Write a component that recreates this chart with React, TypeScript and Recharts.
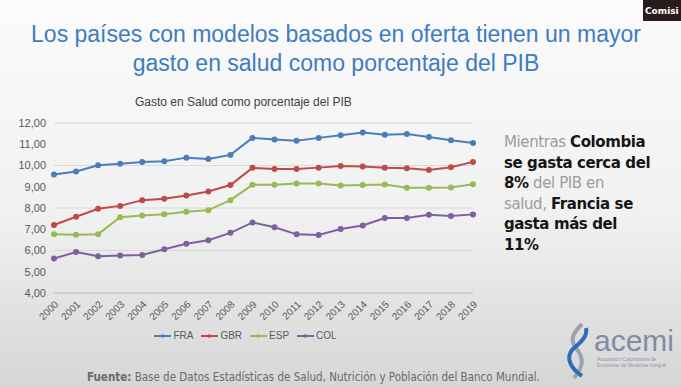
import React from "react"
import { LineChart, Line, XAxis, YAxis, CartesianGrid, Legend } from "recharts"

// Años y valores (% del PIB)
const YEARS = [
  "2000", "2001", "2002", "2003", "2004", "2005", "2006", "2007", "2008", "2009",
  "2010", "2011", "2012", "2013", "2014", "2015", "2016", "2017", "2018", "2019",
]
const FRA = [9.58, 9.72, 10.01, 10.08, 10.16, 10.2, 10.37, 10.31, 10.5, 11.3, 11.22, 11.17, 11.3, 11.42, 11.55, 11.45, 11.48, 11.34, 11.19, 11.06]
const GBR = [7.2, 7.59, 7.96, 8.1, 8.37, 8.43, 8.59, 8.78, 9.08, 9.89, 9.83, 9.84, 9.9, 9.98, 9.95, 9.89, 9.87, 9.79, 9.92, 10.17]
const ESP = [6.77, 6.74, 6.77, 7.57, 7.65, 7.71, 7.82, 7.9, 8.37, 9.09, 9.09, 9.15, 9.15, 9.06, 9.08, 9.11, 8.95, 8.95, 8.97, 9.12]
const COL = [5.62, 5.93, 5.73, 5.77, 5.79, 6.06, 6.32, 6.48, 6.83, 7.32, 7.09, 6.76, 6.73, 7.01, 7.18, 7.53, 7.53, 7.68, 7.62, 7.7]
const Y_TICKS = [4, 5, 6, 7, 8, 9, 10, 11, 12]

const SERIES = [
  { key: "FRA", color: "#4a7ebb" },
  { key: "GBR", color: "#be4b48" },
  { key: "ESP", color: "#98b954" },
  { key: "COL", color: "#7d60a0" },
]

const data = YEARS.map((year, i) => ({
  year,
  FRA: FRA[i],
  GBR: GBR[i],
  ESP: ESP[i],
  COL: COL[i],
}))

const fmt = (v: number) => v.toFixed(2).replace(".", ",")

// etiquetas del eje X giradas
const XTick = ({ x, y, payload }: any) => (
  <text
    x={x + 5}
    y={y + 4}
    textAnchor="end"
    transform={`rotate(-45 ${x + 5} ${y + 4})`}
    fontSize={10}
    fill="#595959"
    fontFamily="Liberation Sans, Arial, sans-serif"
  >
    {payload.value}
  </text>
)

// leyenda en el orden de las series, con línea y marcador
const LegendContent = () => (
  <div style={{ display: "flex", justifyContent: "center", gap: 8, fontSize: 10, color: "#595959", paddingLeft: 8 }}>
    {SERIES.map((s) => (
      <span key={s.key} style={{ display: "flex", alignItems: "center", gap: 2 }}>
        <svg width={17} height={8}>
          <line x1={0} y1={4} x2={17} y2={4} stroke={s.color} strokeWidth={2} />
          <circle cx={8.5} cy={4} r={1.8} fill={s.color} />
        </svg>
        {s.key}
      </span>
    ))}
  </div>
)

const dark = { fontWeight: 700, color: "#151515" }
const light = { color: "#9c9c9c" }

export default function App() {
  return (
    <div
      style={{
        position: "absolute",
        left: 0,
        top: 0,
        width: 681,
        height: 387,
        overflow: "hidden",
        background: "linear-gradient(180deg, #fbfbfb 0%, #f1f1f1 55%, #d6d6d6 100%)",
        fontFamily: "Liberation Sans, Arial, sans-serif",
      }}
    >
      {/* recuadro de la videollamada */}
      <div
        style={{
          position: "absolute",
          left: 643,
          top: 0,
          width: 38,
          height: 21,
          background: "#2b1c1c",
          color: "#fff",
          fontSize: 9,
          fontWeight: 700,
          lineHeight: "23px",
          paddingLeft: 2,
          fontFamily: "DejaVu Sans, sans-serif",
          boxSizing: "border-box",
          whiteSpace: "nowrap",
        }}
      >
        Comisi
      </div>

      <div
        style={{
          position: "absolute",
          left: 0,
          top: 20,
          width: 672,
          textAlign: "center",
          color: "#3d7cc4",
          fontSize: 23,
          lineHeight: "29px",
        }}
      >
        Los países con modelos basados en oferta tienen un mayor
        <br />
        gasto en salud como porcentaje del PIB
      </div>

      <div
        style={{
          position: "absolute",
          left: 135,
          top: 95,
          fontSize: 12,
          color: "#404040",
        }}
      >
        Gasto en Salud como porcentaje del PIB
      </div>

      <div style={{ position: "absolute", left: 0, top: 90 }}>
        <LineChart width={490} height={260} data={data} margin={{ top: 33, right: 17, bottom: 0, left: 10 }}>
          <CartesianGrid vertical={false} stroke="#d9d9d9" />
          <XAxis
            dataKey="year"
            interval={0}
            height={37}
            tickLine={false}
            axisLine={{ stroke: "#bfbfbf" }}
            tick={<XTick />}
          />
          <YAxis
            domain={[4, 12]}
            ticks={Y_TICKS}
            width={44}
            axisLine={false}
            tickLine={false}
            tickFormatter={fmt}
            tick={{ fontSize: 11, fill: "#595959" }}
          />
          {SERIES.map((s) => (
            <Line
              key={s.key}
              dataKey={s.key}
              stroke={s.color}
              strokeWidth={2}
              dot={{ r: 2, fill: s.color, stroke: s.color }}
              isAnimationActive={false}
            />
          ))}
          <Legend verticalAlign="bottom" height={20} content={<LegendContent />} />
        </LineChart>
      </div>

      <div
        style={{
          position: "absolute",
          left: 504,
          top: 132,
          fontSize: 15,
          lineHeight: "20.5px",
          fontFamily: "DejaVu Sans, Verdana, sans-serif",
          letterSpacing: -0.4,
        }}
      >
        <span style={light}>Mientras </span>
        <span style={dark}>Colombia</span>
        <br />
        <span style={dark}>se gasta cerca del</span>
        <br />
        <span style={dark}>8%</span>
        <span style={light}> del PIB en</span>
        <br />
        <span style={light}>salud, </span>
        <span style={dark}>Francia se</span>
        <br />
        <span style={dark}>gasta más del</span>
        <br />
        <span style={dark}>11%</span>
      </div>

      <div
        style={{
          position: "absolute",
          left: 87,
          top: 370,
          fontSize: 11.5,
          color: "#6a6a6a",
          fontFamily: "Liberation Sans Narrow, DejaVu Sans Condensed, sans-serif",
          whiteSpace: "nowrap",
        }}
      >
        <b>Fuente:</b> Base de Datos Estadísticas de Salud, Nutrición y Población del Banco Mundial.
      </div>

      {/* logo acemi */}
      <svg style={{ position: "absolute", left: 560, top: 318 }} width={121} height={69}>
        <path d="M22 6 C12 16, 10 22, 16 30 C24 40, 24 48, 14 60" stroke="#9aa3ad" strokeWidth={4} fill="none" />
        <path d="M26 10 C28 20, 18 26, 12 32 C6 40, 10 50, 22 58" stroke="#2f6db5" strokeWidth={4} fill="none" />
        <text x={34} y={33} fontSize={30} fill="#7d8da2" fontFamily="Liberation Sans, Arial, sans-serif">
          acemi
        </text>
        <text x={37} y={43} fontSize={5} fill="#8a97a8">Asociación Colombiana de</text>
        <text x={37} y={49} fontSize={5} fill="#8a97a8">Empresas de Medicina Integral</text>
      </svg>
    </div>
  )
}
